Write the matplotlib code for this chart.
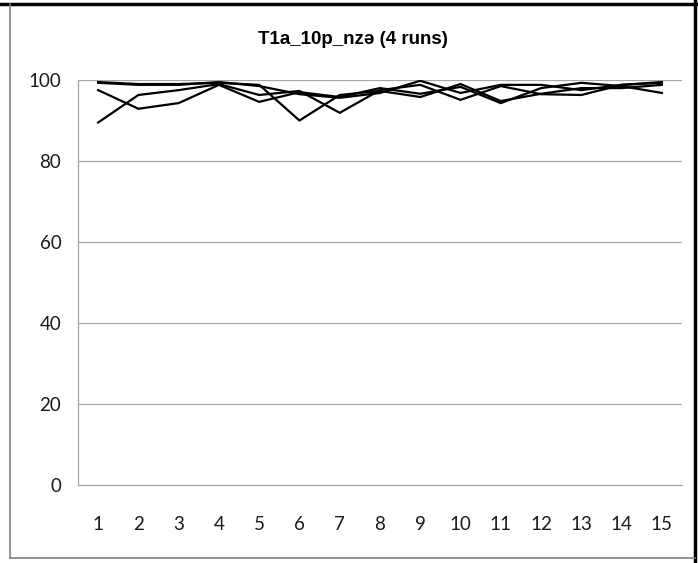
import matplotlib
matplotlib.use("Agg")
import matplotlib.pyplot as plt
from matplotlib.lines import Line2D

runs = list(range(1, 16))

run_a = [89.5, 96.3, 97.5, 99.0, 96.3, 97.3, 91.9, 97.5, 98.8, 95.1, 98.5, 96.5, 96.3, 98.8, 99.3]
run_b = [97.5, 92.9, 94.3, 98.8, 94.6, 97.0, 95.8, 98.0, 96.6, 98.3, 94.3, 98.0, 99.3, 98.5, 96.8]
run_c = [99.5, 99.0, 99.0, 99.3, 98.8, 90.0, 96.3, 97.3, 95.8, 99.0, 94.8, 96.6, 98.0, 98.0, 98.8]
run_d = [99.3, 98.8, 98.8, 99.5, 98.5, 96.5, 95.6, 96.8, 99.8, 96.8, 98.8, 98.8, 97.5, 98.8, 99.5]

y_ticks = [0, 20, 40, 60, 80, 100]

W, H = 698, 563
fig = plt.figure(figsize=(W / 100, H / 100), dpi=100)
ax = fig.add_axes([78 / W, 1 - 485 / H, (682 - 78) / W, (485 - 80) / H])

for run in (run_a, run_b, run_c, run_d):
    ax.plot(runs, run, color='black', lw=1.6, solid_joinstyle='miter')

ax.set_xlim(0.5, 15.5)
ax.set_ylim(0, 100)
ax.set_xticks(runs)
ax.set_yticks(y_ticks)
ax.grid(axis='y', color='#a6a6a6', lw=0.9)
ax.set_axisbelow(True)
for side in ('top', 'right'):
    ax.spines[side].set_visible(False)
for side in ('left', 'bottom'):
    ax.spines[side].set_color('#a6a6a6')
    ax.spines[side].set_linewidth(0.9)
ax.tick_params(length=0)
ax.tick_params(axis='x', pad=22)
ax.tick_params(axis='y', pad=12)
for lab in ax.get_xticklabels() + ax.get_yticklabels():
    lab.set_family(['Lato', 'DejaVu Sans'])
    lab.set_fontsize(13.5)
    lab.set_color('#1a1a1a')

fig.text(353 / W, 1 - 40 / H, 'T1a_10p_nzə (4 runs)', ha='center', va='center',
         fontsize=13.5, fontweight='bold', family=['Liberation Sans', 'DejaVu Sans'])

# chart frame
fig.add_artist(Line2D([0, 1], [1 - 4 / H, 1 - 4 / H], color='black', lw=2.5))
fig.add_artist(Line2D([695 / W, 695 / W], [0, 1], color='black', lw=2.5))
fig.add_artist(Line2D([10 / W, 10 / W], [1 - 558 / H, 1 - 4 / H], color='#808080', lw=1.2))
fig.add_artist(Line2D([10 / W, 695 / W], [1 - 558 / H, 1 - 558 / H], color='#808080', lw=1.2))

fig.savefig('out.png', dpi=100)
